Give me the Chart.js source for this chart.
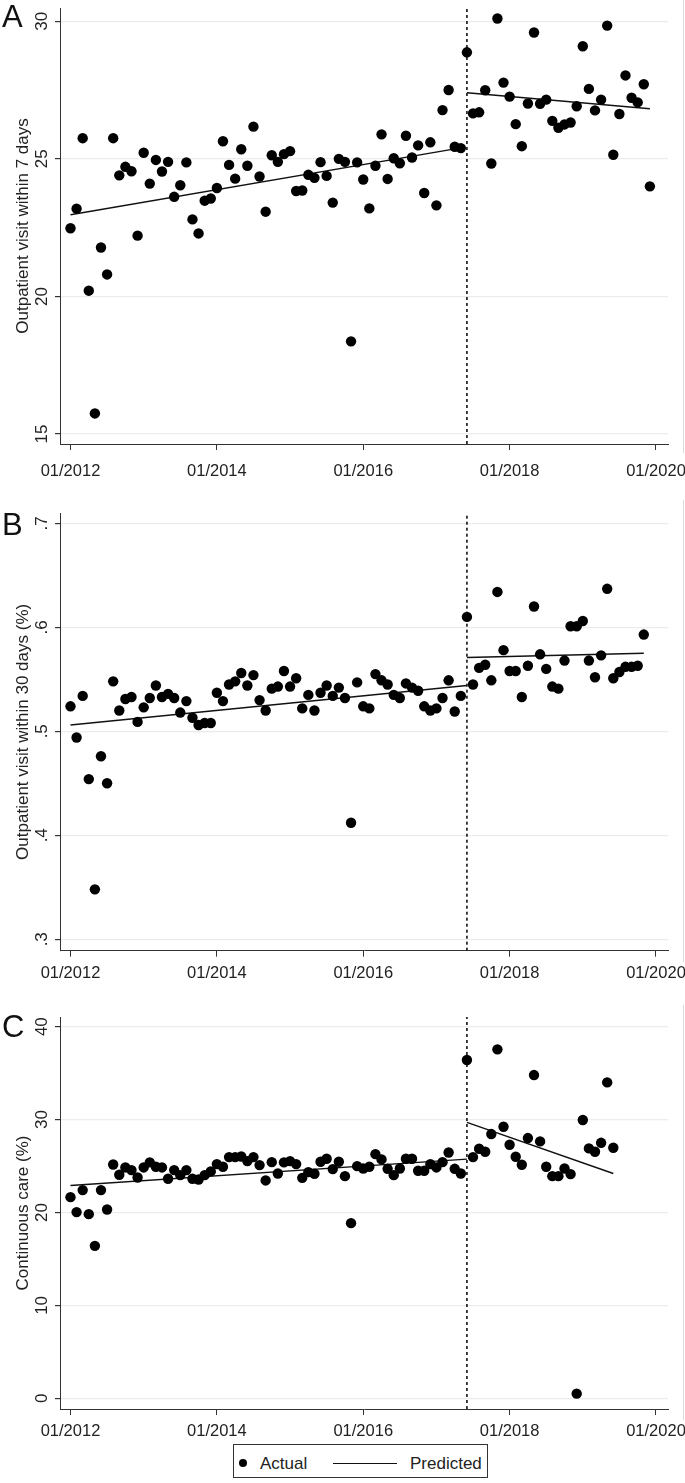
<!DOCTYPE html>
<html>
<head>
<meta charset="utf-8">
<script src="https://cdn.jsdelivr.net/npm/chart.js@4.4.1/dist/chart.umd.min.js"></script>
<style>
  body { margin: 0; background: #fff; width: 685px; height: 1483px; position: relative; overflow: hidden;
         font-family: "Liberation Sans", Arial, sans-serif; color: #222; }
  canvas { position: absolute; left: 0; }
  .letter { position: absolute; left: 2px; font-size: 31px; line-height: 1; color: #111; }
  .frame { position: absolute; left: 683px; width: 1px; background: #dadada; }
  #legend { position: absolute; left: 233px; top: 1444px; width: 255px; height: 34px; border: 1px solid #333; box-sizing: border-box; }
  #legend span { position: absolute; font-size: 17px; line-height: 1; white-space: nowrap; }
</style>
</head>
<body>

<div class="frame" style="top:0; height:453px"></div>
<div class="frame" style="top:500px; height:462px"></div>
<div class="frame" style="top:1005px; height:415px"></div>

<canvas id="chartA" width="685" height="490" style="top:0"></canvas>
<canvas id="chartB" width="685" height="500" style="top:490px"></canvas>
<canvas id="chartC" width="685" height="450" style="top:990px"></canvas>

<div class="letter" style="top:1px">A</div>
<div class="letter" style="top:509px">B</div>
<div class="letter" style="top:1011px">C</div>

<div id="legend">
  <span style="left:5px; top:14px; width:8px; height:8px; border-radius:50%; background:#000"></span>
  <span style="left:26px; top:10px">Actual</span>
  <span style="left:99px; top:18px; width:64px; height:0; border-top:1.5px solid #111"></span>
  <span style="left:176px; top:10px">Predicted</span>
</div>

<script>
/* Data
############################################################################ */

// month index 0 = 01/2012
const xTickMonths = [0, 24, 48, 72, 96];
const xTickLabels = ['01/2012', '01/2014', '01/2016', '01/2018', '01/2020'];
const interventionMonth = 65;

// A: outpatient visit within 7 days
const actualA = [22.48, 23.19, 25.75, 20.21, 15.75, 21.78, 20.80, 25.75, 24.40, 24.71,
  24.55, 22.21, 25.22, 24.10, 24.96, 24.54, 24.89, 23.62, 24.04, 24.87,
  22.80, 22.29, 23.48, 23.56, 23.94, 25.64, 24.78, 24.28, 25.35, 24.75,
  26.17, 24.36, 23.08, 25.13, 24.89, 25.17, 25.28, 23.83, 23.85, 24.42,
  24.31, 24.88, 24.38, 23.41, 25.00, 24.89, 18.37, 24.87, 24.25, 23.20,
  24.75, 25.89, 24.27, 25.02, 24.84, 25.84, 25.05, 25.49, 23.76, 25.60,
  23.31, 26.77, 27.50, 25.44, 25.39, 28.87, 26.65, 26.69, 27.49, 24.83,
  30.10, 27.77, 27.26, 26.26, 25.46, 27.01, 29.59, 27.00, 27.15, 26.38,
  26.13, 26.25, 26.32, 26.91, 29.09, 27.54, 26.76, 27.15, 29.84, 25.15,
  26.63, 28.03, 27.22, 27.05, 27.71, 24.00];
const predMonthsA = [[0, 64], [65, 95]];
const predA = [[22.97, 25.40], [27.40, 26.82]];
const yTicksA = [15, 20, 25, 30];
const yTickLabelsA = ['15', '20', '25', '30'];

// B: outpatient visit within 30 days
const actualB = [0.524, 0.494, 0.534, 0.454, 0.348, 0.476, 0.450, 0.548, 0.520, 0.531,
  0.533, 0.509, 0.523, 0.532, 0.544, 0.533, 0.536, 0.532, 0.518, 0.529,
  0.513, 0.506, 0.508, 0.508, 0.537, 0.529, 0.545, 0.548, 0.556, 0.544,
  0.554, 0.530, 0.520, 0.541, 0.543, 0.558, 0.543, 0.551, 0.522, 0.535,
  0.520, 0.537, 0.544, 0.534, 0.542, 0.532, 0.412, 0.547, 0.524, 0.522,
  0.555, 0.549, 0.545, 0.535, 0.532, 0.546, 0.542, 0.539, 0.524, 0.520,
  0.522, 0.532, 0.549, 0.519, 0.534, 0.610, 0.545, 0.561, 0.564, 0.549,
  0.634, 0.578, 0.558, 0.558, 0.533, 0.563, 0.620, 0.574, 0.560, 0.543,
  0.541, 0.568, 0.601, 0.601, 0.606, 0.568, 0.552, 0.573, 0.637, 0.551,
  0.557, 0.562, 0.562, 0.563, 0.593];
const predMonthsB = [[0, 65], [65, 94]];
const predB = [[0.506, 0.544], [0.571, 0.575]];
const yTicksB = [0.3, 0.4, 0.5, 0.6, 0.7];
const yTickLabelsB = ['.3', '.4', '.5', '.6', '.7'];

// C: continuous care
const actualC = [21.65, 20.04, 22.41, 19.82, 16.41, 22.41, 20.32, 25.17, 24.06, 24.85,
  24.56, 23.77, 24.85, 25.39, 24.92, 24.85, 23.63, 24.56, 24.02, 24.56,
  23.63, 23.55, 24.02, 24.42, 25.21, 24.92, 25.96, 25.96, 26.03, 25.53,
  25.96, 25.10, 23.45, 25.42, 24.20, 25.39, 25.53, 25.21, 23.73, 24.34,
  24.17, 25.46, 25.78, 24.67, 25.46, 23.91, 18.85, 24.99, 24.74, 24.92,
  26.28, 25.71, 24.70, 24.02, 24.74, 25.78, 25.78, 24.49, 24.49, 25.21,
  24.85, 25.42, 26.46, 24.70, 24.20, 36.41, 25.96, 26.86, 26.54, 28.44,
  37.56, 29.23, 27.29, 26.00, 25.14, 28.01, 34.79, 27.65, 24.92, 23.91,
  23.91, 24.74, 24.13, 0.50, 29.95, 26.90, 26.54, 27.50, 34.00, 26.97];
const predMonthsC = [[0, 65], [65, 89]];
const predC = [[22.91, 25.74], [29.69, 24.20]];
const yTicksC = [0, 10, 20, 30, 40];
const yTickLabelsC = ['0', '10', '20', '30', '40'];


/* Chart
############################################################################ */

const FONT = '"Liberation Sans", Arial, sans-serif';
Chart.defaults.font.family = FONT;
Chart.defaults.color = '#222';

// rotated y tick labels and y title, Stata style
const yText = {
  id: 'yText',
  afterDraw(chart, args, opts) {
    const { ctx, chartArea, scales } = chart;
    const y = scales.y;
    ctx.save();
    ctx.fillStyle = '#222';
    ctx.textAlign = 'center';
    ctx.textBaseline = 'alphabetic';
    ctx.font = '17px ' + FONT;
    y.ticks.forEach((t, i) => {
      ctx.save();
      ctx.translate(46.5, y.getPixelForValue(t.value));
      ctx.rotate(-Math.PI / 2);
      ctx.fillText(opts.labels[i], 0, 0);
      ctx.restore();
    });
    ctx.translate(28, (chartArea.top + chartArea.bottom) / 2);
    ctx.rotate(-Math.PI / 2);
    ctx.fillText(opts.title, 0, 0);
    ctx.restore();
  }
};

const makePanel = (id, o) => {
  const points = o.actual.map((v, i) => ({ x: i, y: v }));

  const datasets = [{
    data: points,
    backgroundColor: '#000',
    borderColor: '#000',
    pointRadius: 5.2,
    pointBorderWidth: 0,
    clip: false,
  }];

  o.predMonths.forEach((m, k) => {
    datasets.push({
      type: 'line',
      data: [{ x: m[0], y: o.pred[k][0] }, { x: m[1], y: o.pred[k][1] }],
      borderColor: '#111',
      borderWidth: 1.4,
      pointRadius: 0,
      clip: false,
    });
  });

  datasets.push({
    type: 'line',
    data: [{ x: interventionMonth, y: o.yMin }, { x: interventionMonth, y: o.yMax }],
    borderColor: '#111',
    borderWidth: 1.6,
    borderDash: [3, 3],
    pointRadius: 0,
  });

  new Chart(document.getElementById(id), {
    type: 'scatter',
    data: { datasets },
    plugins: [yText],
    options: {
      responsive: false,
      devicePixelRatio: 1,
      animation: false,
      layout: { padding: { left: 0, right: 17, top: o.padTop, bottom: 0 } },
      plugins: {
        legend: { display: false },
        tooltip: { enabled: false },
        yText: { labels: o.yTickLabels, title: o.title },
      },
      scales: {
        x: {
          type: 'linear',
          min: -1.72,
          max: 97.97,
          afterBuildTicks: (s) => { s.ticks = xTickMonths.map(v => ({ value: v })); },
          afterFit: (s) => { s.height = o.xHeight; s.paddingLeft = 0; s.paddingRight = 0; },
          ticks: {
            autoSkip: false,
            maxRotation: 0,
            minRotation: 0,
            padding: o.xPad,
            color: '#222',
            font: { size: 16.5 },
            callback: (v, i) => xTickLabels[i],
          },
          grid: { drawOnChartArea: false, drawTicks: true, tickLength: 6, color: '#333', tickColor: '#333' },
          border: { display: true, color: '#333', width: 1 },
        },
        y: {
          type: 'linear',
          min: o.yMin,
          max: o.yMax,
          afterBuildTicks: (s) => { s.ticks = o.yTicks.map(v => ({ value: v })); },
          afterFit: (s) => { s.width = 60; },
          ticks: { display: false },
          grid: { color: '#ececec', lineWidth: 1.2, drawTicks: true, tickLength: 5, tickColor: '#333' },
          border: { display: true, color: '#333', width: 1 },
        },
      },
    },
  });
};


/* Main
############################################################################ */

makePanel('chartA', {
  actual: actualA, predMonths: predMonthsA, pred: predA,
  yTicks: yTicksA, yTickLabels: yTickLabelsA, yMin: 14.64, yMax: 30.48,
  title: 'Outpatient visit within 7 days', padTop: 8, xHeight: 46, xPad: 12,
});

makePanel('chartB', {
  actual: actualB, predMonths: predMonthsB, pred: predB,
  yTicks: yTicksB, yTickLabels: yTickLabelsB, yMin: 0.289, yMax: 0.7099,
  title: 'Outpatient visit within 30 days (%)', padTop: 23, xHeight: 39.3, xPad: 7,
});

makePanel('chartC', {
  actual: actualC, predMonths: predMonthsC, pred: predC,
  yTicks: yTicksC, yTickLabels: yTickLabelsC, yMin: -1.15, yMax: 41.04,
  title: 'Continuous care (%)', padTop: 27, xHeight: 31, xPad: 7,
});
</script>
</body>
</html>
